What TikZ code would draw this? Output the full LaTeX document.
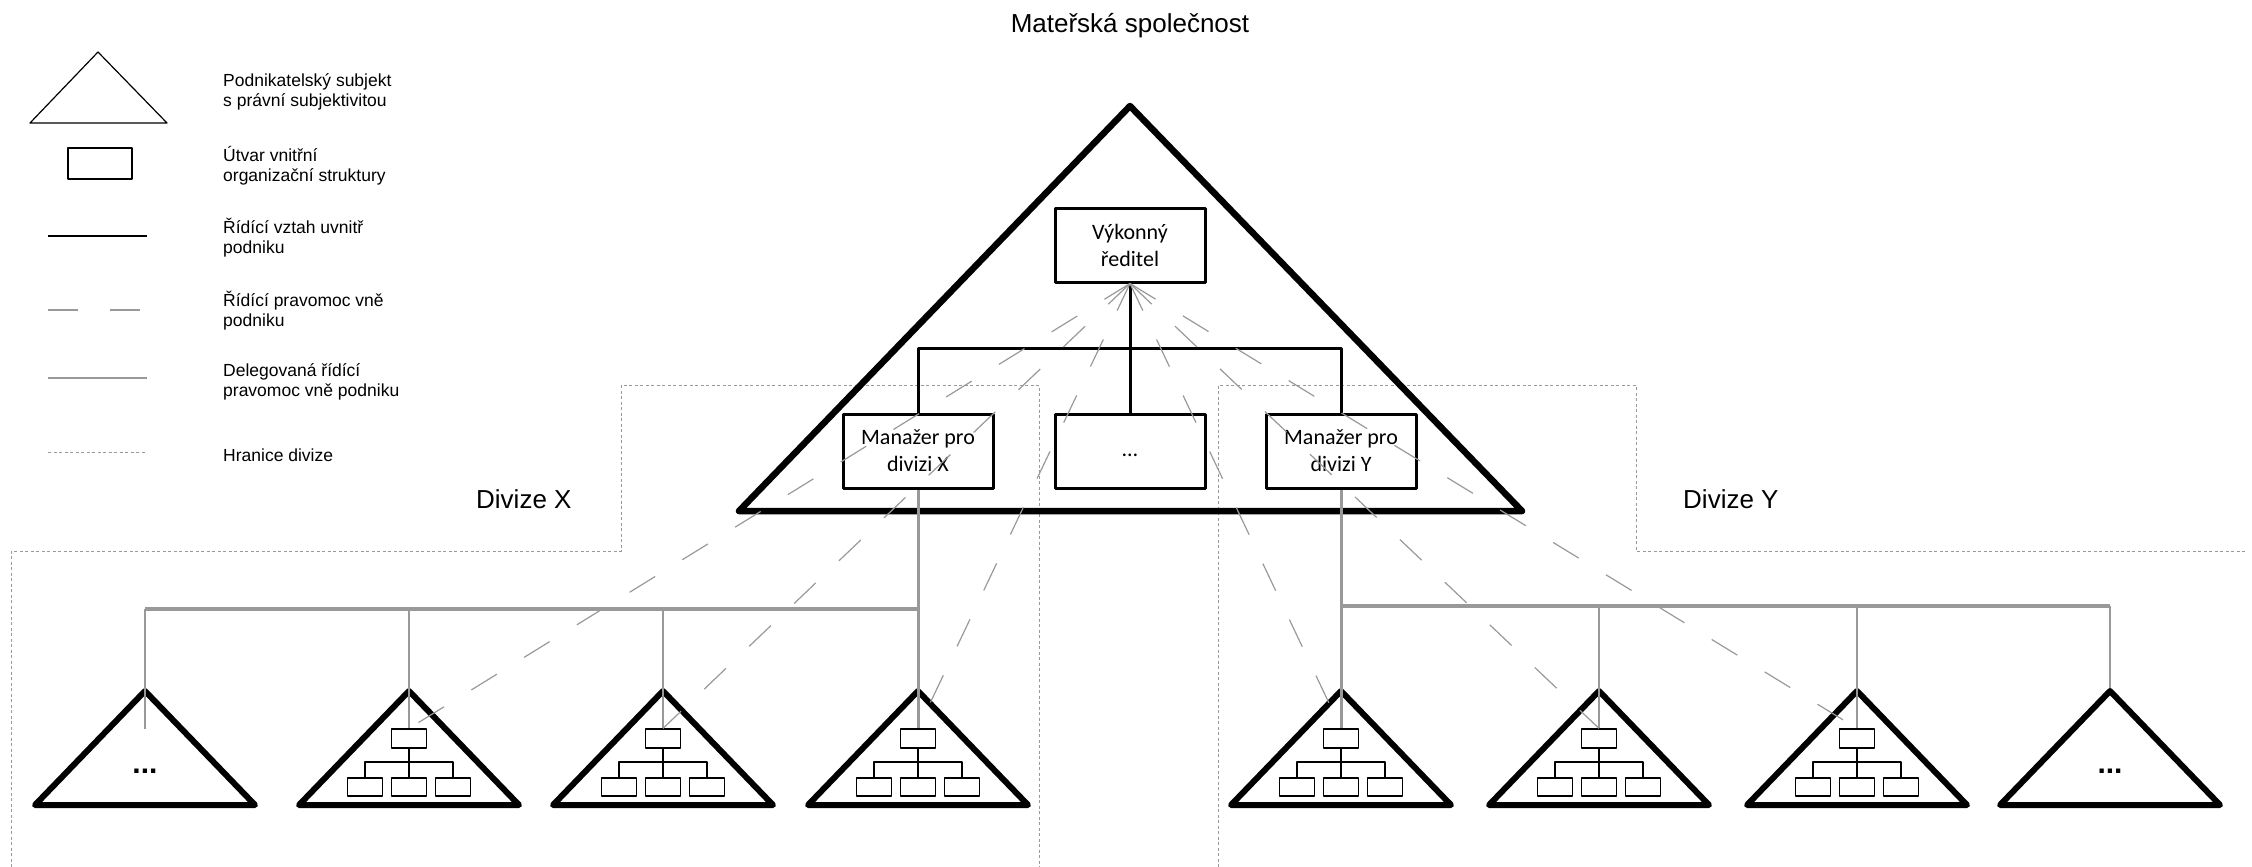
\documentclass[tikz,border=0pt]{standalone}
\usepackage{fontspec}
\setmainfont{Liberation Sans}
\newfontfamily\calibri{Carlito}
\begin{document}
\begin{tikzpicture}[x=1pt, y=-1pt, line join=round,
main box/.style={rectangle,draw,fill=white,line width=3pt,minimum width=150pt,minimum height=74pt,inner sep=0pt,align=center,font=\calibri\fontsize{22}{27}\selectfont},
mini box/.style={rectangle,draw,fill=white,line width=1.7pt,minimum width=35pt,minimum height=18.5pt,inner sep=0pt},
ctrl/.style={line width=3pt},
mini line/.style={line width=1.7pt},
deleg/.style={draw=black!40,line width=2.5pt},
auth/.style={draw=black!40,line width=1.2pt,dash pattern=on 30pt off 32pt},
border/.style={draw=black!40,line width=1pt,dash pattern=on 3pt off 2.5pt},
entity/.style={line width=6pt}]
\useasboundingbox (0,0) rectangle (2252,867);

% legend
\draw[line width=1.2pt] (98,52) -- (167,123) -- (30,123) -- cycle;
\node[draw,line width=1.2pt,minimum width=64pt,minimum height=31pt,inner sep=0pt] (lbox) at (100,163.5) {};
\coordinate (l1a) at (48,236); \coordinate (l1b) at (147,236);
\coordinate (l2a) at (48,310); \coordinate (l2b) at (147,310);
\coordinate (l3a) at (48,378); \coordinate (l3b) at (147,378);
\coordinate (l4a) at (48,452); \coordinate (l4b) at (147,452);
\draw[line width=1.2pt] (l1a) -- (l1b);
\draw[auth] (l2a) -- (l2b);
\draw[deleg,line width=1.5pt] (l3a) -- (l3b);
\draw[border] (l4a) -- (l4b);
\begin{scope}[every node/.style={anchor=west,align=left,inner sep=0pt,font=\fontsize{17.5}{20}\selectfont}]
\node (t1) at (223,92) {Podnikatelský subjekt\\s právní subjektivitou};
\node (t2) at (223,166) {Útvar vnitřní\\organizační struktury};
\node (t3) at (223,238) {Řídící vztah uvnitř\\podniku};
\node (t4) at (223,311) {Řídící pravomoc vně\\podniku};
\node (t5) at (223,382) {Delegovaná řídící\\pravomoc vně podniku};
\node (t6) at (223,455) {Hranice divize};
\end{scope}

% titles
\begin{scope}[every node/.style={inner sep=0pt,font=\fontsize{26}{30}\selectfont}]
\node[anchor=base] (title) at (1130,33) {Mateřská společnost};
\node[anchor=base west] (divx) at (476,508) {Divize X};
\node[anchor=base west] (divy) at (1683,508) {Divize Y};
\end{scope}

% division borders
\draw[border] (11,867) -- (11,551) -- (621,551) -- (621,385) -- (1039,385) -- (1039,867);
\draw[border] (1218,867) -- (1218,385) -- (1636,385) -- (1636,551) -- (2245,551);

% parent company
\draw[line width=6.5pt] (1130,106) -- (1522,511) -- (739,511) -- cycle;
\coordinate (bus) at (1130,348);
\node[main box] (ceo) at (1130,245) {Výkonný\\ředitel};
\node[main box] (mx) at (918,451) {Manažer pro\\divizi X};
\node[main box] (md) at (1130,451) {\strut…};
\node[main box] (my) at (1341,451) {Manažer pro\\divizi Y};
\draw[ctrl] (ceo) -- (md);
\draw[ctrl] (mx) |- (bus) -| (my);

% subsidiaries
\draw[entity] (145,691) -- (255,805) -- (35,805) -- cycle;
\draw[entity] (409,691) -- (519,805) -- (299,805) -- cycle;
\draw[entity] (663,691) -- (773,805) -- (553,805) -- cycle;
\draw[entity] (918,691) -- (1028,805) -- (808,805) -- cycle;
\draw[entity] (1341,691) -- (1451,805) -- (1231,805) -- cycle;
\draw[entity] (1599,691) -- (1709,805) -- (1489,805) -- cycle;
\draw[entity] (1857,691) -- (1967,805) -- (1747,805) -- cycle;
\draw[entity] (2110,691) -- (2220,805) -- (2000,805) -- cycle;
\begin{scope}[every node/.style={anchor=base,font=\bfseries\fontsize{30}{30}\selectfont}]
\node (x1dots) at (145,773) {...};
\node (y4dots) at (2110,773) {...};
\end{scope}

\node[mini box] (x2t) at (409,738.5) {};
\node[mini box] (x2l) at (365,787) {};
\node[mini box] (x2m) at (409,787) {};
\node[mini box] (x2r) at (453,787) {};
\node[mini box] (x3t) at (663,738.5) {};
\node[mini box] (x3l) at (619,787) {};
\node[mini box] (x3m) at (663,787) {};
\node[mini box] (x3r) at (707,787) {};
\node[mini box] (x4t) at (918,738.5) {};
\node[mini box] (x4l) at (874,787) {};
\node[mini box] (x4m) at (918,787) {};
\node[mini box] (x4r) at (962,787) {};
\node[mini box] (y1t) at (1341,738.5) {};
\node[mini box] (y1l) at (1297,787) {};
\node[mini box] (y1m) at (1341,787) {};
\node[mini box] (y1r) at (1385,787) {};
\node[mini box] (y2t) at (1599,738.5) {};
\node[mini box] (y2l) at (1555,787) {};
\node[mini box] (y2m) at (1599,787) {};
\node[mini box] (y2r) at (1643,787) {};
\node[mini box] (y3t) at (1857,738.5) {};
\node[mini box] (y3l) at (1813,787) {};
\node[mini box] (y3m) at (1857,787) {};
\node[mini box] (y3r) at (1901,787) {};

\draw[mini line] (x2t) -- (x2m);
\draw[mini line] (x2l.north) -- ++(0,-15) -| (x2r.north);
\draw[mini line] (x3t) -- (x3m);
\draw[mini line] (x3l.north) -- ++(0,-15) -| (x3r.north);
\draw[mini line] (x4t) -- (x4m);
\draw[mini line] (x4l.north) -- ++(0,-15) -| (x4r.north);
\draw[mini line] (y1t) -- (y1m);
\draw[mini line] (y1l.north) -- ++(0,-15) -| (y1r.north);
\draw[mini line] (y2t) -- (y2m);
\draw[mini line] (y2l.north) -- ++(0,-15) -| (y2r.north);
\draw[mini line] (y3t) -- (y3m);
\draw[mini line] (y3l.north) -- ++(0,-15) -| (y3r.north);

% delegated authority
\coordinate (xbus) at (918,609);
\coordinate (ybus) at (1341,606);
\coordinate (x1end) at (145,729);
\coordinate (y4end) at (2110,688);
\draw[deleg,line width=3pt] (mx) -- (x4t);
\draw[deleg,line width=3.5pt] (xbus) -- (x1end |- xbus);
\draw[deleg] (x1end |- xbus) -- (x1end);
\draw[deleg] (x2t |- xbus) -- (x2t);
\draw[deleg] (x3t |- xbus) -- (x3t);
\draw[deleg,line width=3pt] (my) -- (y1t);
\draw[deleg,line width=3.5pt] (ybus) -- (y4end |- ybus);
\draw[deleg] (y2t |- ybus) -- (y2t);
\draw[deleg] (y3t |- ybus) -- (y3t);
\draw[deleg] (y4end |- ybus) -- (y4end);

% control outside the company
\draw[auth] (ceo.south) -- (x2t.north);
\draw[auth] (ceo.south) -- (x3t.north);
\draw[auth] (ceo.south) -- (x4t.north);
\draw[auth] (ceo.south) -- (y1t.north);
\draw[auth] (ceo.south) -- (y2t.north);
\draw[auth] (ceo.south) -- (y3t.north);
\end{tikzpicture}
\end{document}
